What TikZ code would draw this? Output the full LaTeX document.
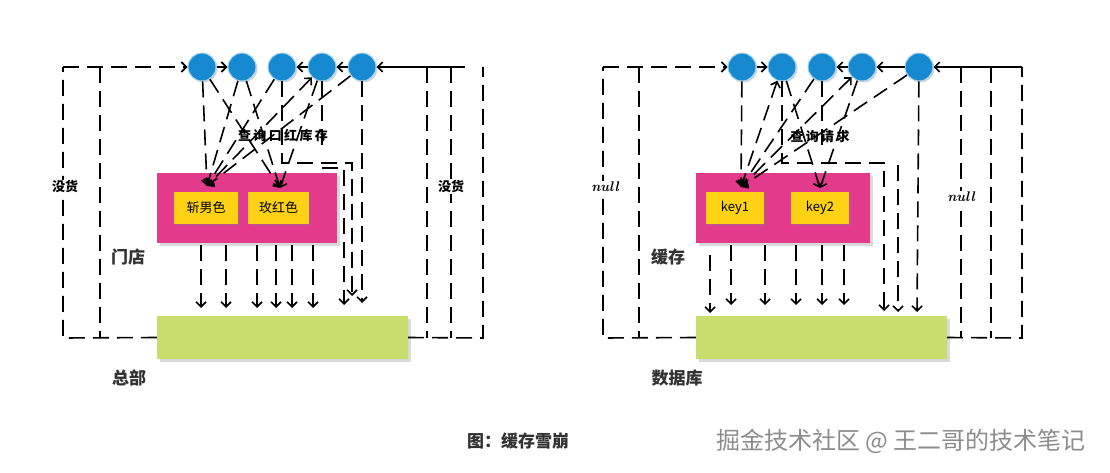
\documentclass[tikz,border=0pt]{standalone}
\usepackage{fontspec}
\newfontfamily\cjk{Noto Sans CJK SC}
\newfontfamily\cjkwide[LetterSpace=18]{Noto Sans CJK SC}
\usetikzlibrary{positioning,arrows.meta,shadows,calc}
\definecolor{ballblue}{RGB}{22,137,208}
\definecolor{shoppink}{RGB}{228,58,140}
\definecolor{keyyellow}{RGB}{254,210,20}
\definecolor{basegreen}{RGB}{200,222,108}
\definecolor{labelgray}{RGB}{50,50,50}
\tikzset{
  ball/.style={circle, minimum size=28pt, inner sep=0pt, fill=ballblue,
    draw=ballblue!35!white, line width=1pt, drop shadow={shadow xshift=1.5pt, shadow yshift=-1.5pt, opacity=0.35}},
  shopbox/.style={rectangle, minimum height=70pt, fill=shoppink,
    drop shadow={shadow xshift=3pt, shadow yshift=-3pt, opacity=0.3}},
  keybox/.style={rectangle, minimum height=32pt, fill=keyyellow, inner sep=0pt,
    font=\cjk\fontsize{13}{15}\selectfont, drop shadow={shadow xshift=2pt, shadow yshift=-2pt, opacity=0.3}},
  basebox/.style={rectangle, minimum width=251pt, minimum height=43pt, fill=basegreen,
    drop shadow={shadow xshift=3pt, shadow yshift=-3pt, opacity=0.3}},
  tier/.style={font=\cjk\bfseries\fontsize{17}{19}\selectfont, text=labelgray},
  hand/.style={font=\cjkwide\bfseries\fontsize{13}{15}\selectfont, inner sep=1pt},
  sidenote/.style={font=\cjk\bfseries\fontsize{13}{15}\selectfont, fill=white, inner sep=1pt},
  nullnote/.style={font=\itshape\bfseries\fontsize{14}{16}\selectfont, fill=white, inner sep=1pt},
  flow/.style={line width=1.6pt, dash pattern=on 16pt off 8pt},
  hop/.style={line width=1.6pt},
  tip/.style={-{Straight Barb[length=5pt,width=10pt]}},
  tips/.style={{Straight Barb[length=5pt,width=10pt]}-{Straight Barb[length=5pt,width=10pt]}}
}

\begin{document}
\begin{tikzpicture}[x=1pt,y=-1pt]
  \useasboundingbox (0,0) rectangle (1110,473);

  % ---- left: shop / headquarters
  \foreach \i/\x in {1/202,2/242,3/282,4/322,5/362}
    \node[ball] (l\i) at (\x,67) {};
  \node[shopbox, minimum width=180pt] (lshop) at (247,208) {};
  \node[keybox, minimum width=64pt] (lk1) at (206,208) {斩男色};
  \node[keybox, minimum width=61pt] (lk2) at (278.5,208) {玫红色};
  \node[basebox] (lbase) at (282.5,337.5) {};
  \node[tier] (lstore) at (128,257) {门店};
  \node[tier] (lhq) at (129,378) {总部};

  \coordinate (lnw) at (63,67);
  \coordinate (lsw) at (63,338);
  \coordinate (lne) at (483,67);
  \coordinate (lse) at (483,338);
  \coordinate (lk1in) at (207,186);
  \coordinate (lk2in) at (280,188);

  \draw[flow] (lbase.west) -- (lsw) -- (lnw);
  \draw[flow,tip] (lnw) -- (l1);
  \draw[flow] (lbase.east) -- (lse) -- (lne);
  \draw[hop,tip] (465,67) -- (l5);
  \foreach \x in {100,427,451}
    \draw[flow] (\x,67) -- (\x,338);
  \draw[hop,tip] (l1) -- (l2);
  \draw[hop,tip] (l4) -- (l3);
  \draw[hop,tip] (l5) -- (l4);

  \draw[flow,tip] (l1) -- (lk1in);
  \draw[flow,tip] (l1) -- (lk2in);
  \draw[flow,tip] (l2) -- (lk1in);
  \draw[flow,tip] (l2) -- (lk2in);
  \draw[flow,tip] (l3) -- (lk1in);
  \draw[flow,tips] (l4) -- (lk1in);
  \draw[flow,tip] (l4) -- (lk2in);
  \draw[flow,tip] (l5) -- (lk1in);
  \draw[flow,tip] (l3) -- (282,163) -- (352,163) -- (352,296);
  \draw[flow] (l4) -- (322,153);
  \draw[flow,tip] (322,168) -- (344,168) -- (344,305);
  \draw[flow,tip] (l5) -- (362,303);
  \foreach \x in {201,226,257,276,292,313}
    \draw[flow,tip] (lshop.south -| {(\x,0)}) ++(0,2) -- (\x,308);

  \node[hand] (lask) at (283,136) {查询口红库存};
  \node[sidenote] (lnone) at (65,187) {没货};
  \node[sidenote] (rnone) at (451,187) {没货};

  % ---- right: cache / database
  \foreach \i/\x in {1/742,2/782,3/822,4/862,5/919}
    \node[ball] (r\i) at (\x,67) {};
  \node[shopbox, minimum width=174pt] (rcache) at (783,208) {};
  \node[keybox, minimum width=58pt] (rk1) at (735,208) {key1};
  \node[keybox, minimum width=58pt] (rk2) at (820,208) {key2};
  \node[basebox] (rbase) at (821.5,337.5) {};
  \node[tier] (rstore) at (668,257) {缓存};
  \node[tier] (rdb) at (677,378) {数据库};

  \coordinate (rnw) at (603,67);
  \coordinate (rsw) at (603,338);
  \coordinate (rne) at (1022,67);
  \coordinate (rse) at (1022,338);
  \coordinate (rk1in) at (741,187);
  \coordinate (rk2in) at (820,188);

  \draw[flow] (rbase.west) -- (rsw) -- (rnw);
  \draw[flow,tip] (rnw) -- (r1);
  \draw[flow] (rbase.east) -- (rse) -- (rne);
  \draw[hop,tip] (rne) -- (r5);
  \foreach \x in {639,961,991}
    \draw[flow] (\x,67) -- (\x,338);
  \draw[hop,tip] (r1) -- (r2);
  \draw[hop,tip] (r4) -- (r3);
  \draw[hop,tip] (r5) -- (r4);

  \draw[flow,tip] (r1) -- (rk1in);
  \draw[flow,tips] (r2) -- (rk1in);
  \draw[flow,tip] (r2) -- (rk2in);
  \draw[flow,tip] (r3) -- (rk1in);
  \draw[flow,tips] (r4) -- (rk1in);
  \draw[flow,tip] (r4) -- (rk2in);
  \draw[flow,tip] (r5) -- (rk1in);
  \draw[flow,tip] (r2) -- (782,163) -- (884,163) -- (884,311);
  \draw[flow] (r3) -- (822,153);
  \draw[flow,tip] (898,165) -- (898,312);
  \draw[flow,tip] (r5) -- (917,312);
  \draw[flow,tip] (710,255) -- (710,313);
  \foreach \x in {731,765,796,822,844}
    \draw[flow,tip] (rcache.south -| {(\x,0)}) ++(0,2) -- (\x,305);

  \node[hand] (rask) at (820,137) {查询请求};
  \node[nullnote] (rnull1) at (605,187) {null};
  \node[nullnote] (rnull2) at (961,197) {null};

  % ---- caption
  \node[font=\cjk\bfseries\fontsize{17}{19}\selectfont, text=labelgray] (title) at (518,441) {图：缓存雪崩};
  \node[font=\cjk\fontsize{24}{27}\selectfont, text=black!45] (mark) at (901,441) {掘金技术社区 @ 王二哥的技术笔记};
\end{tikzpicture}
\end{document}
